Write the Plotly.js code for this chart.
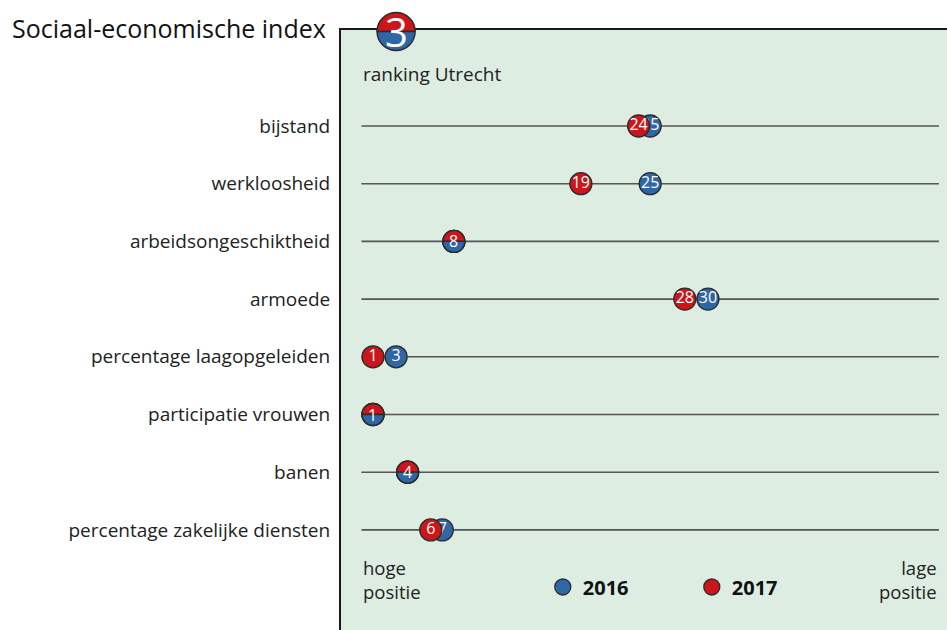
<!DOCTYPE html>
<html>
<head>
<meta charset="utf-8">
<script src="https://cdn.plot.ly/plotly-3.0.1.min.js"></script>
<style>
  html, body { margin: 0; padding: 0; background: #fff; }
  #chart { width: 947px; height: 630px; }
</style>
</head>
<body>
<div id="chart"></div>
<script>
// indicatoren en ranking Utrecht (1 = hoogste positie)
var categories = ["bijstand", "werkloosheid", "arbeidsongeschiktheid", "armoede",
  "percentage laagopgeleiden", "participatie vrouwen", "banen", "percentage zakelijke diensten"];
var rank2016 = [25, 25, 8, 30, 3, 1, 4, 7];
var rank2017 = [24, 19, 8, 28, 1, 1, 4, 6];
var overallRank = 3;
var scaleMax = 50;

var RED = "#cc161a", BLUE = "#2f66a6", EDGE = "#2b2b2b";
var FONT = "'Open Sans', sans-serif";

var rows = categories.map(function (c, i) { return i; });
var tie = rows.map(function (i) { return rank2016[i] === rank2017[i]; });

// horizontale lijnen per indicator
var lx = [], ly = [];
rows.forEach(function (i) { lx.push(0, scaleMax, null); ly.push(i, i, null); });

var traces = [
  { x: lx, y: ly, mode: "lines", line: { color: "#555", width: 1.6 },
    hoverinfo: "skip", showlegend: false },
  { x: rank2016, y: rows, mode: "markers+text", name: "2016", showlegend: false,
    text: rank2016.map(function (v, i) { return tie[i] ? "" : String(v); }),
    textposition: "middle center",
    textfont: { color: "#fff", size: 16, family: FONT },
    marker: { color: BLUE, size: 22, line: { color: EDGE, width: 1.3 } } },
  { x: rank2017, y: rows, mode: "markers+text", name: "2017", showlegend: false,
    text: rank2017.map(function (v, i) { return tie[i] ? "" : String(v); }),
    textposition: "middle center",
    textfont: { color: "#fff", size: 16, family: FONT },
    marker: { color: RED, size: 22, line: { color: EDGE, width: 1.3 } } },
  // legenda
  { x: [null], y: [null], mode: "markers", name: "2016",
    marker: { color: BLUE, size: 22, line: { color: EDGE, width: 1.3 } } },
  { x: [null], y: [null], mode: "markers", name: "2017",
    marker: { color: RED, size: 22, line: { color: EDGE, width: 1.3 } } }
];

// halve cirkels (boven rood, onder blauw) via bezier-paden in pixels
function half(r, top) {
  var k = 0.5523 * r, s = top ? 1 : -1;
  return "M" + (-r) + ",0 C" + (-r) + "," + (s * k) + " " + (-k) + "," + (s * r) + " 0," + (s * r) +
    " C" + k + "," + (s * r) + " " + r + "," + (s * k) + " " + r + ",0 Z";
}
function splitBadge(xv, yv, xref, yref, r, lw) {
  return [true, false].map(function (top) {
    return { type: "path", layer: "above", xref: xref, yref: yref,
      xsizemode: "pixel", ysizemode: "pixel", xanchor: xv, yanchor: yv,
      path: half(r, top), fillcolor: top ? RED : BLUE,
      line: { color: EDGE, width: lw } };
  });
}

var shapes = [];
var annotations = [];
rows.forEach(function (i) {
  if (tie[i]) {
    shapes = shapes.concat(splitBadge(rank2017[i], i, "x", "y", 11, 1.3));
    annotations.push({ x: rank2017[i], y: i, xref: "x", yref: "y", text: String(rank2017[i]),
      showarrow: false, font: { color: "#fff", size: 16, family: FONT } });
  }
});

// totaalscore badge bovenaan
shapes = shapes.concat(splitBadge(overallRank, 0.9975, "x", "paper", 19, 1.5));
annotations.push({ x: overallRank, y: 0.9975, xref: "x", yref: "paper", yanchor: "middle",
  text: String(overallRank), showarrow: false,
  font: { color: "#fff", size: 40, family: FONT } });

annotations.push(
  { x: -0.0215, y: 1.004, xref: "paper", yref: "paper", xanchor: "right", yanchor: "middle",
    text: "Sociaal-economische index", showarrow: false,
    font: { size: 25, color: "#111", family: FONT } },
  { x: 0, y: -0.9, xref: "x", yref: "y", xanchor: "left", yanchor: "middle",
    text: "ranking Utrecht", showarrow: false, font: { size: 19, color: "#222", family: FONT } },
  { x: 0, y: 7.86, xref: "x", yref: "y", xanchor: "left", yanchor: "middle", align: "left",
    text: "hoge<br>positie", showarrow: false, font: { size: 18.5, color: "#222", family: FONT } },
  { x: scaleMax, y: 7.86, xref: "x", yref: "y", xanchor: "right", yanchor: "middle", align: "right",
    text: "lage<br>positie", showarrow: false, font: { size: 18.5, color: "#222", family: FONT } }
);

var layout = {
  width: 947, height: 630,
  margin: { l: 341, r: 0, t: 30, b: 0, pad: 0 },
  paper_bgcolor: "#fff",
  plot_bgcolor: "#ddede2",
  font: { family: FONT, size: 19, color: "#222" },
  xaxis: { range: [-1.77, 50.7], side: "top", showgrid: false, zeroline: false,
    showticklabels: false, ticks: "", showline: true, linecolor: "#1a1a1a", linewidth: 2, fixedrange: true },
  yaxis: { range: [8.735, -1.664], tickvals: rows, ticktext: categories,
    showgrid: false, zeroline: false, ticks: "outside", ticklen: 5, tickcolor: "rgba(0,0,0,0)",
    showline: true, linecolor: "#1a1a1a", linewidth: 2,
    tickfont: { size: 19, color: "#222", family: FONT }, fixedrange: true },
  showlegend: true,
  legend: { orientation: "h", x: 0.333, xanchor: "left", y: 0.0717, yanchor: "middle",
    bgcolor: "rgba(0,0,0,0)", entrywidth: 104, entrywidthmode: "pixels",
    font: { size: 20, color: "#111", family: FONT, weight: "bold" }, itemsizing: "trace" },
  shapes: shapes,
  annotations: annotations
};

Plotly.newPlot("chart", traces, layout, { displayModeBar: false, staticPlot: true });
</script>
</body>
</html>
